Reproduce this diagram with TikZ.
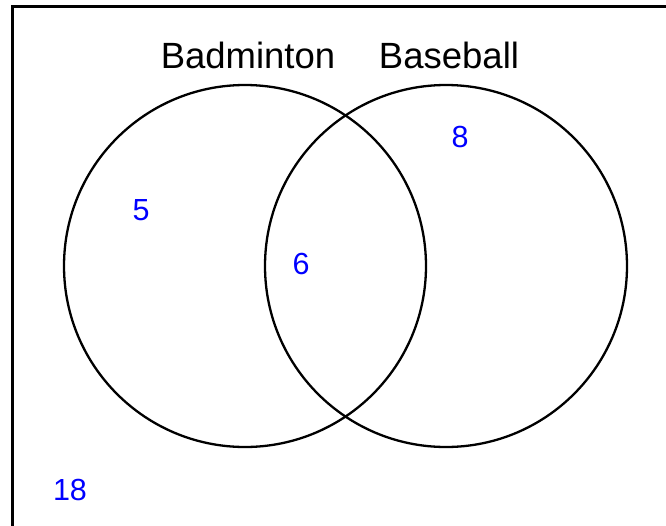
\documentclass[tikz,border=0pt]{standalone}
\usepackage{fontspec}
\setmainfont{Liberation Sans}
\begin{document}
\begin{tikzpicture}[x=1pt,y=-1pt,
  setcircle/.style={draw=black,line width=2.3pt},
  setlabel/.style={inner sep=0pt,font=\fontsize{36.5}{40}\selectfont},
  count/.style={inner sep=0pt,text=blue,font=\fontsize{30.5}{33}\selectfont}]
\useasboundingbox (0,0) rectangle (666,525);
\clip (0,0) rectangle (666,525);
\draw[line width=3pt] (12.5,700) -- (12.5,6.5) -- (700,6.5);
\node[setcircle,circle,minimum size=362pt,inner sep=0pt] (A) at (245,266) {};
\node[setcircle,circle,minimum size=362pt,inner sep=0pt] (B) at (446,266) {};
\node[setlabel] (la) at (248,55) {Badminton};
\node[setlabel] (lb) at (449,55) {Baseball};
\node[count] (n5) at (141,210) {5};
\node[count] (n8) at (460,137) {8};
\node[count] (n6) at (301,264) {6};
\node[count] (n18) at (70,490) {18};
\end{tikzpicture}
\end{document}
